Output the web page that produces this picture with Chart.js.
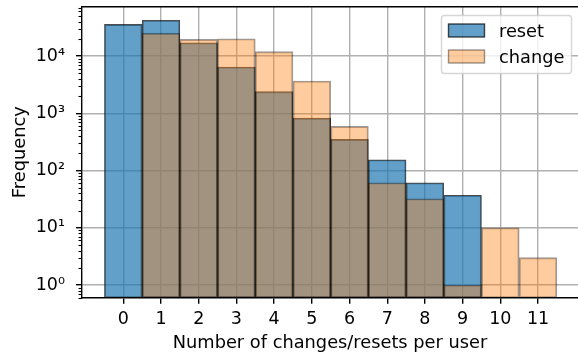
<!DOCTYPE html>
<html>
<head>
<meta charset="utf-8">
<script src="https://cdn.jsdelivr.net/npm/chart.js@4"></script>
<style>
  html, body { margin: 0; padding: 0; background: #fff; }
  #wrap { width: 578px; height: 356px; }
</style>
</head>
<body>
<div id="wrap"><canvas id="hist"></canvas></div>
<script>
// ─── DATA ────────────────────────────────────────────────────
const categories   = [0, 1, 2, 3, 4, 5, 6, 7, 8, 9, 10, 11];
const resetCounts  = [35700, 42000, 17000, 6400, 2380, 820, 350, 154, 61, 37, 0, 0];
const changeCounts = [0, 24900, 19500, 20000, 11900, 3660, 590, 61, 32, 1, 10, 3];
const yTickValues  = [1, 10, 100, 1000, 10000];
const seriesNames  = ['reset', 'change'];

const FONT = 'DejaVu Sans';
const SUP  = { 0: '\u2070', 1: '\u00B9', 2: '\u00B2', 3: '\u00B3', 4: '\u2074' };

// zero-count bins are simply not drawn (log scale)
const toPoints = counts => categories.map((c, i) => ({ x: c, y: counts[i] > 0 ? counts[i] : null }));

// ─── PLUGINS ─────────────────────────────────────────────────
// top spine + minor log ticks on the left axis
const frameAndMinor = {
    id: 'frameAndMinor',
    afterDraw(chart) {
        const { ctx, chartArea: { left, top, right }, scales: { y } } = chart;
        ctx.save();
        ctx.strokeStyle = '#000';
        ctx.lineWidth = 1.4;
        ctx.beginPath();
        ctx.moveTo(left - 0.7, top);
        ctx.lineTo(right, top);
        ctx.stroke();

        ctx.lineWidth = 1.1;
        for (let k = -1; k <= 5; k++) {
            for (let m = 2; m <= 9; m++) {
                const v = m * Math.pow(10, k);
                if (v < y.min || v > y.max) continue;
                const py = Math.round(y.getPixelForValue(v)) + 0.5;
                ctx.beginPath();
                ctx.moveTo(left - 3.5, py);
                ctx.lineTo(left, py);
                ctx.stroke();
            }
        }
        ctx.restore();
    },
};

// matplotlib-like legend box in the upper right
const boxLegend = {
    id: 'boxLegend',
    afterDraw(chart) {
        const { ctx } = chart;
        const x0 = 441.5, y0 = 15.5, w = 130, h = 58, r = 3;
        ctx.save();
        ctx.beginPath();
        ctx.moveTo(x0 + r, y0);
        ctx.arcTo(x0 + w, y0, x0 + w, y0 + h, r);
        ctx.arcTo(x0 + w, y0 + h, x0, y0 + h, r);
        ctx.arcTo(x0, y0 + h, x0, y0, r);
        ctx.arcTo(x0, y0, x0 + w, y0, r);
        ctx.closePath();
        ctx.fillStyle = 'rgba(255,255,255,0.8)';
        ctx.fill();
        ctx.strokeStyle = 'rgba(204,204,204,0.8)';
        ctx.lineWidth = 1.4;
        ctx.stroke();

        const rows = [24, 50];
        chart.data.datasets.forEach((ds, i) => {
            const hy = rows[i];
            ctx.fillStyle = ds.backgroundColor;
            ctx.fillRect(448.5, hy, 36, 13);
            ctx.strokeStyle = ds.borderColor;
            ctx.lineWidth = 1.4;
            ctx.strokeRect(448.5, hy, 36, 13);
            ctx.fillStyle = '#000';
            ctx.font = `17.8px "${FONT}"`;
            ctx.textBaseline = 'alphabetic';
            ctx.textAlign = 'left';
            ctx.fillText(ds.label, 499, hy + 13.3);
        });
        ctx.restore();
    },
};

// ─── CHART ───────────────────────────────────────────────────
new Chart(document.getElementById('hist'), {
    type: 'bar',
    data: {
        datasets: [
            {
                label: seriesNames[0],
                data: toPoints(resetCounts),
                backgroundColor: 'rgba(31,119,180,0.7)',
                borderColor: 'rgba(0,0,0,0.7)',
                borderWidth: 1.2,
                borderSkipped: false,
                order: 2,
            },
            {
                label: seriesNames[1],
                data: toPoints(changeCounts),
                backgroundColor: 'rgba(255,127,14,0.4)',
                borderColor: 'rgba(0,0,0,0.4)',
                borderWidth: 1.2,
                borderSkipped: false,
                order: 1,
            },
        ],
    },
    options: {
        responsive: true,
        maintainAspectRatio: false,
        animation: false,
        devicePixelRatio: 1,
        layout: { padding: { top: 6.7, left: 0, right: 0, bottom: 0 } },
        datasets: { bar: { barPercentage: 1, categoryPercentage: 1, grouped: false } },
        plugins: {
            legend: { display: false },
            tooltip: { enabled: false },
        },
        scales: {
            x: {
                type: 'linear',
                min: -1.095,
                max: 12.06,
                offset: false,
                z: 1,
                afterBuildTicks: scale => { scale.ticks = categories.map(v => ({ value: v })); },
                afterFit: scale => {
                    scale.height = 58.3;
                    scale.paddingLeft = 0;
                    scale.paddingRight = 0;
                },
                grid: {
                    offset: false,
                    color: '#b0b0b0',
                    lineWidth: 1.4,
                    tickColor: '#000',
                    tickWidth: 1.4,
                    tickLength: 6,
                },
                border: { color: '#000', width: 1.4 },
                ticks: {
                    autoSkip: false,
                    maxRotation: 0,
                    padding: 5,
                    color: '#000',
                    font: { family: FONT, size: 17.5 },
                },
                title: {
                    display: true,
                    text: 'Number of changes/resets per user',
                    color: '#000',
                    font: { family: FONT, size: 17.8 },
                    padding: { top: 0, bottom: 1.5 },
                },
            },
            y: {
                type: 'logarithmic',
                min: 0.6,
                max: 72600,
                z: 1,
                afterBuildTicks: scale => { scale.ticks = yTickValues.map(v => ({ value: v })); },
                afterFit: scale => {
                    scale.width = 82;
                    scale.paddingTop = 0;
                    scale.paddingBottom = 0;
                },
                grid: {
                    color: '#b0b0b0',
                    lineWidth: 1.4,
                    tickColor: '#000',
                    tickWidth: 1.4,
                    tickLength: 6,
                },
                border: { color: '#000', width: 1.4 },
                ticks: {
                    autoSkip: false,
                    padding: 11,
                    color: '#000',
                    font: { family: FONT, size: 17.5 },
                    callback: v => '10' + SUP[Math.round(Math.log10(v))],
                },
                title: {
                    display: true,
                    text: 'Frequency',
                    color: '#000',
                    font: { family: FONT, size: 17.8 },
                    padding: { top: 9.3, bottom: 0 },
                },
            },
        },
    },
    plugins: [frameAndMinor, boxLegend],
});
</script>
</body>
</html>
